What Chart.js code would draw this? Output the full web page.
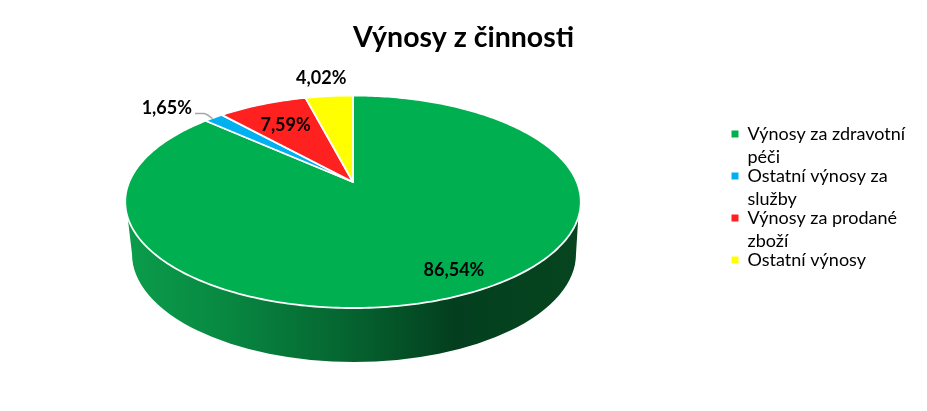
<!DOCTYPE html>
<html><head><meta charset="utf-8">
<style>html,body{margin:0;padding:0;background:#fff}#w{width:927px;height:411px;position:relative}</style>
<script src="https://cdn.jsdelivr.net/npm/chart.js@4"></script>
</head><body><div id="w"><canvas id="c"></canvas></div>
<script>
const titleText = "Výnosy z činnosti";
const categories = [["Výnosy za zdravotní","péči"],["Ostatní výnosy za","služby"],["Výnosy za prodané","zboží"],["Ostatní výnosy"]];
const values = [86.54,1.65,7.59,4.02];
const valueLabels = ["86,54%","1,65%","7,59%","4,02%"];
const colors = ["#00B050","#00B0F0","#FF2020","#FFFF00"];
const labelRadius = [0.75,1.3,0.7,1.2];
const labelNudge = [[23,8],[-11,7],[-1,0],[-4,-4]];

// perspective view of the pie's unit circle (Excel 3-D pie look)
const view = {cx:353, cy:182, A:223.8, B:102.6, k:-0.1859};
function project(a, r){
  const u=Math.cos(a)*r, v=Math.sin(a)*r, w=1+view.k*v;
  return [view.cx+view.A*u/w, view.cy+view.B*v/w];
}
const floor = {cx:354, cy:254, rx:222, ry:108};

const pie3d = {
  id:'pie3d',
  afterLayout(chart){
    const lg=chart.legend;
    lg.draw=function(){ this._draw(); };   // item padding is negative: no clipping to the legend box
    const w=lg.right-lg.left;
    lg.left=735.5; lg.right=735.5+w;
    lg.top-=6; lg.bottom-=6;
  },
  beforeDatasetsDraw(chart){
    const ctx=chart.ctx, arcs=chart.getDatasetMeta(0).data;
    // side wall
    const g=ctx.createLinearGradient(127,0,581,0);
    g.addColorStop(0,"#0B9C4B");g.addColorStop(.2,"#088A42");g.addColorStop(.5,"#05622F");
    g.addColorStop(.72,"#033F1E");g.addColorStop(1,"#06451F");
    ctx.save();
    ctx.fillStyle=g;
    ctx.beginPath();
    ctx.ellipse(floor.cx,floor.cy,floor.rx,floor.ry,0,0,Math.PI);
    const p1=project(Math.PI-0.33,1), p2=project(0.33,1);
    ctx.lineTo(p1[0],p1[1]);
    ctx.lineTo(p2[0],p2[1]);
    ctx.closePath();
    ctx.fill();
    // top face
    arcs.forEach((arc)=>{
      const o=arc.options, p=arc.getProps(['startAngle','endAngle']);
      const n=Math.max(2,Math.ceil((p.endAngle-p.startAngle)*60));
      ctx.beginPath();
      ctx.moveTo(view.cx,view.cy);
      for(let i=0;i<=n;i++){
        const q=project(p.startAngle+(p.endAngle-p.startAngle)*i/n,1);
        ctx.lineTo(q[0],q[1]);
      }
      ctx.closePath();
      ctx.fillStyle=o.backgroundColor;
      ctx.strokeStyle=o.borderColor;
      ctx.lineWidth=o.borderWidth;
      ctx.lineJoin='round';
      ctx.fill();ctx.stroke();
    });
    ctx.restore();
    return false;
  },
  afterDraw(chart){
    const ctx=chart.ctx, arcs=chart.getDatasetMeta(0).data;
    ctx.save();
    // leader line for the thin slice
    const p=arcs[1].getProps(['startAngle','endAngle']);
    const e=project((p.startAngle+p.endAngle)/2,1.0);
    ctx.strokeStyle="#A6A6A6";ctx.lineWidth=1.5;
    ctx.beginPath();ctx.moveTo(195,113.5);ctx.lineTo(204,113.5);ctx.quadraticCurveTo(207,114,e[0]-1,e[1]+1);ctx.stroke();
    ctx.font="bold 18px Lato";ctx.fillStyle="#000";ctx.textAlign="center";ctx.textBaseline="middle";
    arcs.forEach((arc,i)=>{
      const pr=arc.getProps(['startAngle','endAngle']);
      const q=project((pr.startAngle+pr.endAngle)/2,labelRadius[i]);
      ctx.fillText(valueLabels[i],q[0]+labelNudge[i][0],q[1]+labelNudge[i][1]);
    });
    ctx.restore();
  }
};

new Chart(document.getElementById('c'),{
  type:'pie',
  data:{labels:categories,datasets:[{data:values,backgroundColor:colors,borderColor:"#fff",borderWidth:1.8}]},
  options:{
    responsive:true,maintainAspectRatio:false,animation:false,
    layout:{padding:0},
    plugins:{
      tooltip:{enabled:false},
      title:{display:true,text:titleText,color:"#000",font:{family:"Lato",size:28.5,weight:"bold"},padding:{top:21,bottom:10}},
      legend:{position:'right',labels:{
        color:"#1a1a1a",boxWidth:7,boxHeight:7,padding:-4,
        font:{family:"Lato",size:18,lineHeight:"23px"},
        generateLabels(chart){
          return categories.map((t,i)=>({text:t,fillStyle:colors[i],strokeStyle:colors[i],lineWidth:0,index:i,hidden:false}));
        }
      }}
    }
  },
  plugins:[pie3d]
});
</script></body></html>
